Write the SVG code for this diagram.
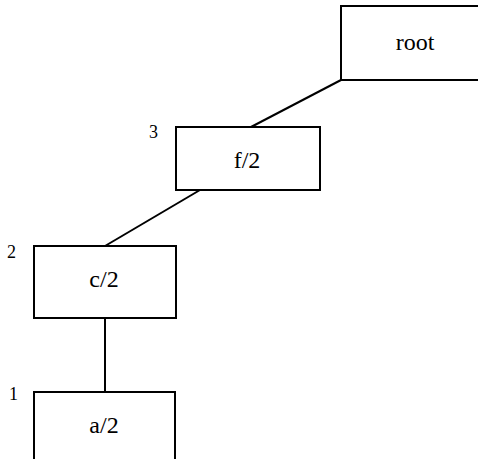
<svg xmlns="http://www.w3.org/2000/svg" width="478" height="459" viewBox="0 0 478 459">
<style>
.box{fill:#fff;stroke:#000;stroke-width:2}
.lbl{font-family:'Liberation Serif','Times New Roman',serif;font-size:24px;text-anchor:middle;fill:#000}
.num{font-family:'Liberation Serif','Times New Roman',serif;font-size:18px;fill:#000}
.edge{stroke:#000;stroke-width:2;fill:none}
</style>
<rect width="478" height="459" fill="#fff"/>
<g id="connectors">
<line class="edge" x1="341" y1="80" x2="251" y2="127"/>
<line class="edge" x1="200" y1="190" x2="105" y2="246"/>
<line class="edge" x1="105" y1="318" x2="105" y2="392"/>
</g>
<g id="root">
<rect class="box" x="341" y="6" width="148" height="74"/>
<text class="lbl" x="415" y="50">root</text>
</g>
<g id="f2">
<rect class="box" x="176" y="127" width="144" height="63"/>
<text class="lbl" x="247" y="168">f/2</text>
<text class="num" x="149" y="138">3</text>
</g>
<g id="c2">
<rect class="box" x="34" y="246" width="142" height="72"/>
<text class="lbl" x="104" y="287">c/2</text>
<text class="num" x="7" y="258">2</text>
</g>
<g id="a2">
<rect class="box" x="34" y="392" width="141" height="80"/>
<text class="lbl" x="104" y="433">a/2</text>
<text class="num" x="9" y="400">1</text>
</g>
</svg>
